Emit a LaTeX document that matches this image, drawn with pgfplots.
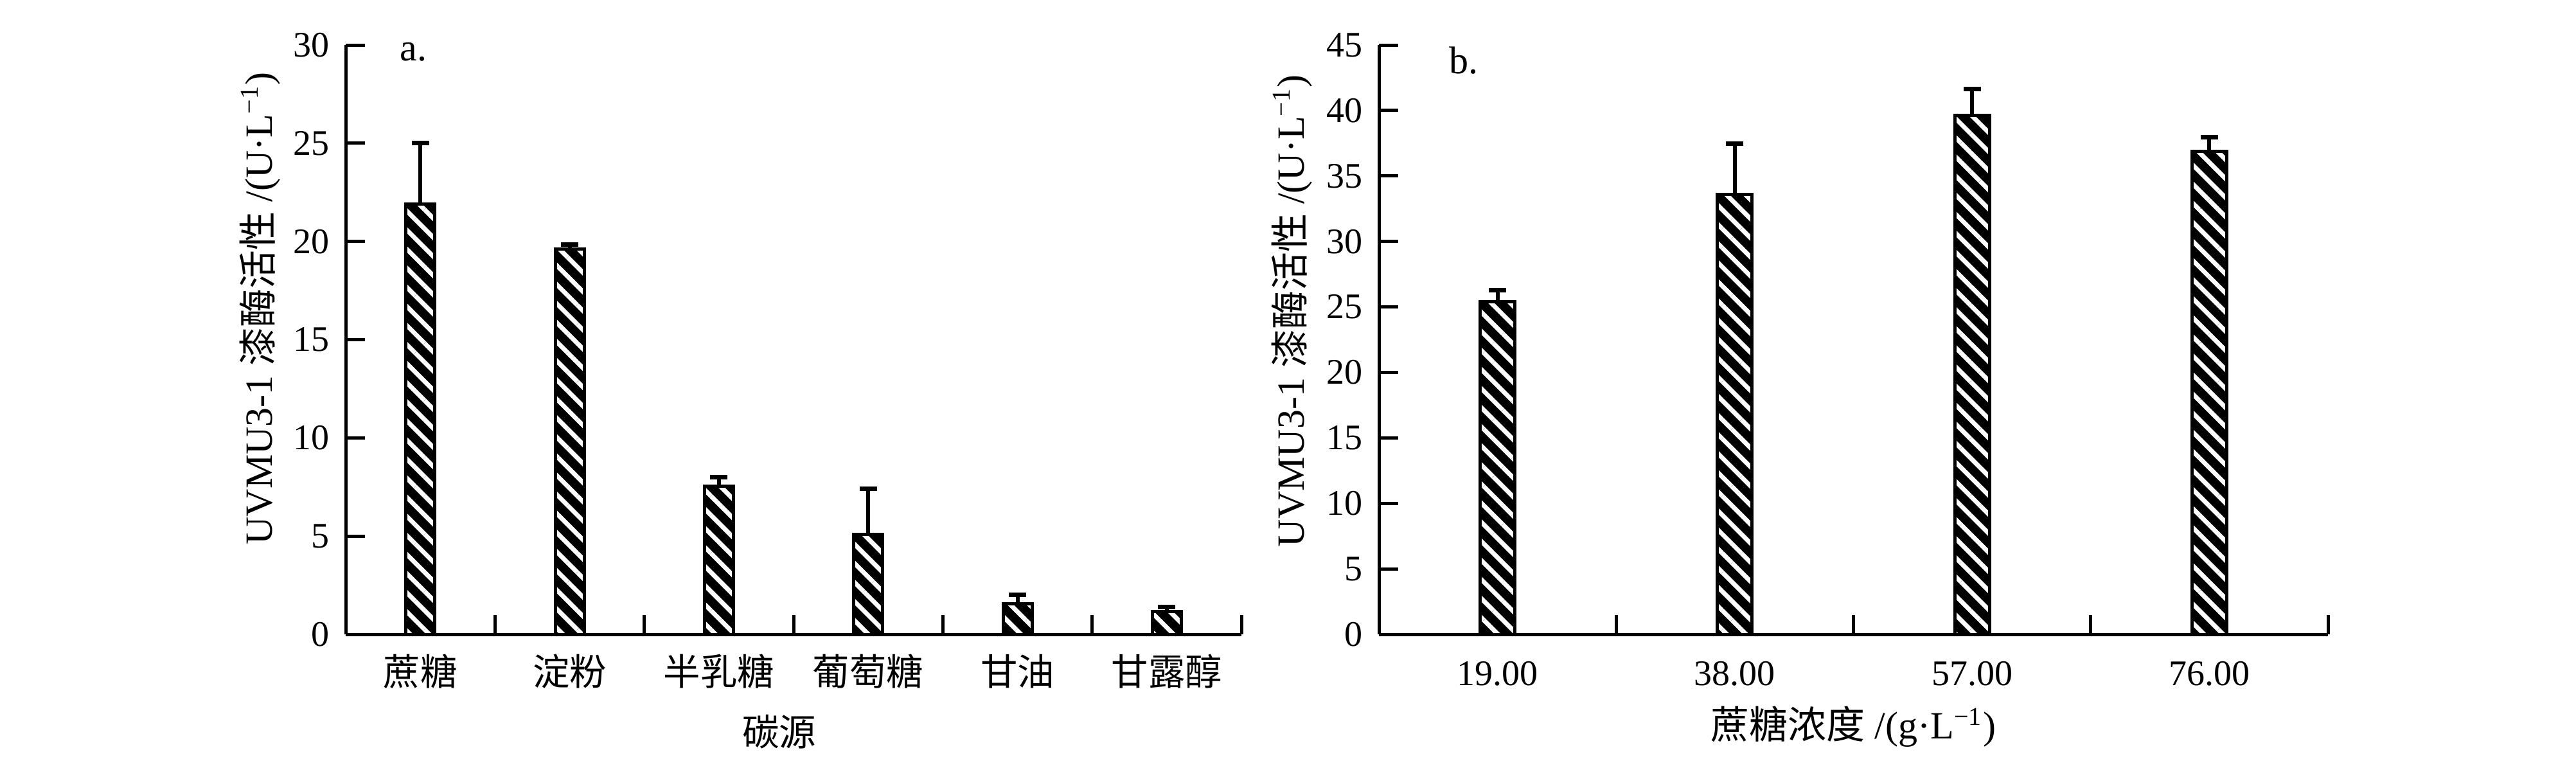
\documentclass[border=0pt]{standalone}
\usepackage{fontspec}
\setmainfont{Liberation Serif}
\newfontfamily\cjk{Noto Sans CJK SC}
\usepackage{pgfplots}
\pgfplotsset{compat=1.18}
\usetikzlibrary{patterns.meta}

\pgfplotsset{
  panel/.style={
    scale only axis,
    clip=false,
    axis x line*=bottom,
    axis y line*=left,
    axis line style={line width=1pt, black},
    tick align=inside,
    major tick length=6pt,
    minor tick length=6pt,
    every tick/.style={black, line width=1pt},
    major x tick style={draw=none},
    ymin=0,
    tick label style={font=\fontsize{11.2}{13}\selectfont},
    /pgf/number format/assume math mode=true,
    yticklabel style={xshift=-1.5pt},
    xticklabel style={anchor=center, yshift=-11.5pt},
    ylabel style={font=\fontsize{12}{14}\selectfont, anchor=center},
    xlabel style={font=\fontsize{11.5}{14}\selectfont, anchor=center},
  },
  hatchbar/.style={
    ybar, bar width=#1, draw=black, line width=1pt,
    preaction={fill=black},
    pattern={Lines[angle=-45,distance=4.2pt,line width=1.4pt]},
    pattern color=white,
  },
  errs/.style={
    error bars/y dir=plus,
    error bars/y explicit,
    error bars/error bar style={line width=1.2pt, black, solid},
    error bars/error mark=|,
    error bars/error mark options={line width=1.4pt, mark size=2.7pt, black, solid},
  },
}

\begin{document}
\begin{tikzpicture}
\path[use as bounding box] (0,0) rectangle (801.8pt,236pt);

% Panel a
\begin{axis}[panel,
  at={(107.6pt,38.6pt)}, anchor=south west,
  width=278.8pt, height=183.4pt,
  xmin=-0.5, xmax=5.5,
  ymax=30, ytick={0,5,...,30},
  xtick={0,1,2,3,4,5},
  xticklabels={{\cjk\fontsize{11.5}{13}\selectfont 蔗糖},{\cjk\fontsize{11.5}{13}\selectfont 淀粉},{\cjk\fontsize{11.5}{13}\selectfont 半乳糖},{\cjk\fontsize{11.5}{13}\selectfont 葡萄糖},{\cjk\fontsize{11.5}{13}\selectfont 甘油},{\cjk\fontsize{11.5}{13}\selectfont 甘露醇}},
  minor xtick={0.5,1.5,2.5,3.5,4.5,5.5},
  ylabel={UVMU3-1 {\cjk 漆酶活性} /(U·L\textsuperscript{−1})},
  ylabel style={at={(axis description cs:-0.096,0.553)}},
  xlabel={{\cjk 碳源}},
  xlabel style={at={(axis description cs:0.484,-0.165)}},
]
\addplot[hatchbar=9pt, errs] coordinates {
  (0,21.9) +- (0,3.1)
  (1,19.6) +- (0,0.25)
  (2,7.55) +- (0,0.45)
  (3,5.1)  +- (0,2.3)
  (4,1.55) +- (0,0.45)
  (5,1.15) +- (0,0.25)
};
\node[anchor=base west, font=\fontsize{12}{14}\selectfont] at (axis description cs:0.048,0.973) {a.};
\end{axis}

% Panel b
\begin{axis}[panel,
  at={(429.2pt,38.6pt)}, anchor=south west,
  width=295.4pt, height=183.4pt,
  xmin=-0.5, xmax=3.5,
  ymax=45, ytick={0,5,...,45},
  xtick={0,1,2,3},
  xticklabels={19.00,38.00,57.00,76.00},
  xticklabel style={yshift=-0.7pt},
  minor xtick={0.5,1.5,2.5,3.5},
  ylabel={UVMU3-1 {\cjk 漆酶活性} /(U·L\textsuperscript{−1})},
  ylabel style={at={(axis description cs:-0.092,0.549)}},
  xlabel={{\cjk 蔗糖浓度} /(g·L\textsuperscript{−1})},
  xlabel style={at={(axis description cs:0.5,-0.157)}, font=\fontsize{12}{14}\selectfont},
]
\addplot[hatchbar=10.8pt, errs] coordinates {
  (0,25.4)  +- (0,0.9)
  (1,33.6)  +- (0,3.85)
  (2,39.65) +- (0,2.0)
  (3,36.9)  +- (0,1.05)
};
\node[anchor=base west, font=\fontsize{12}{14}\selectfont] at (axis description cs:0.062,0.951) {b.};
\end{axis}
\end{tikzpicture}
\end{document}
